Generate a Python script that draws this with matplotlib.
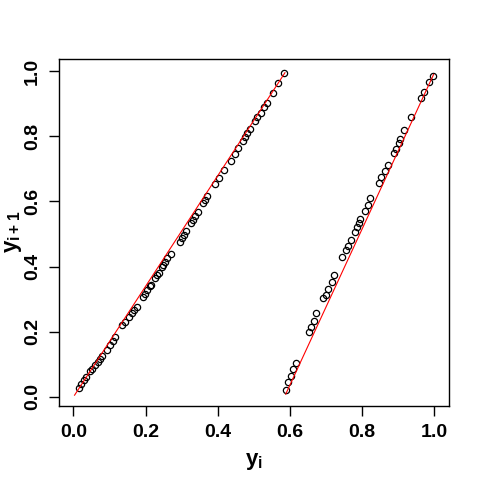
import matplotlib
matplotlib.use("Agg")
import matplotlib.pyplot as plt

plt.rcParams["font.family"] = ["Liberation Sans", "DejaVu Sans"]
plt.rcParams["mathtext.fontset"] = "custom"
plt.rcParams["mathtext.rm"] = "Liberation Sans"
plt.rcParams["mathtext.bf"] = "Liberation Sans:bold"

# lag plot values: y_i and y_{i+1}
y_i = [0.015, 0.021, 0.028, 0.036, 0.047, 0.052, 0.061, 0.067, 0.073, 0.079,
       0.093, 0.102, 0.110, 0.116, 0.135, 0.144, 0.153, 0.162, 0.169, 0.176,
       0.193, 0.199, 0.205, 0.211, 0.215, 0.227, 0.231, 0.236, 0.245, 0.249,
       0.254, 0.260, 0.270, 0.294, 0.300, 0.305, 0.312, 0.325, 0.331, 0.337,
       0.346, 0.360, 0.365, 0.371, 0.392, 0.404, 0.418, 0.436, 0.448, 0.457,
       0.470, 0.475, 0.481, 0.489, 0.503, 0.509, 0.519, 0.528, 0.535, 0.552,
       0.567, 0.583,
       0.588, 0.595, 0.602, 0.609, 0.616, 0.653, 0.659, 0.667, 0.673, 0.691,
       0.699, 0.705, 0.715, 0.721, 0.745, 0.756, 0.760, 0.770, 0.779, 0.785,
       0.791, 0.795, 0.809, 0.816, 0.822, 0.846, 0.853, 0.862, 0.871, 0.887,
       0.894, 0.901, 0.906, 0.917, 0.936, 0.963, 0.970, 0.986, 0.995]
y_next = [0.027, 0.040, 0.052, 0.062, 0.078, 0.085, 0.098, 0.108, 0.116, 0.124,
          0.144, 0.160, 0.170, 0.183, 0.219, 0.231, 0.244, 0.257, 0.265, 0.277,
          0.306, 0.317, 0.328, 0.339, 0.344, 0.364, 0.374, 0.381, 0.398, 0.405,
          0.415, 0.425, 0.439, 0.476, 0.487, 0.497, 0.510, 0.533, 0.543, 0.555,
          0.568, 0.594, 0.604, 0.617, 0.653, 0.671, 0.696, 0.725, 0.745, 0.763,
          0.786, 0.797, 0.809, 0.822, 0.847, 0.860, 0.872, 0.889, 0.901, 0.932,
          0.962, 0.993,
          0.021, 0.044, 0.064, 0.085, 0.103, 0.200, 0.214, 0.234, 0.257, 0.303,
          0.313, 0.330, 0.351, 0.374, 0.429, 0.451, 0.463, 0.482, 0.507, 0.522,
          0.535, 0.545, 0.571, 0.589, 0.610, 0.657, 0.676, 0.694, 0.713, 0.748,
          0.760, 0.778, 0.790, 0.819, 0.858, 0.916, 0.935, 0.967, 0.985]

# red reference segments (two branches)
line1_x = [0.003, 0.586]
line1_y = [0.005, 0.995]
line2_x = [0.588, 0.998]
line2_y = [0.008, 0.990]

ticks = [0.0, 0.2, 0.4, 0.6, 0.8, 1.0]
tick_labels = ["0.0", "0.2", "0.4", "0.6", "0.8", "1.0"]

fig = plt.figure(figsize=(4.8, 4.8), dpi=100)
ax = fig.add_axes([0.123, 0.155, 0.812, 0.722])

ax.plot(y_i, y_next, "o", mfc="none", mec="black", ms=4.5, mew=0.9)
ax.plot(line1_x, line1_y, color="red", lw=0.8)
ax.plot(line2_x, line2_y, color="red", lw=0.8)

ax.set_xlim(-0.04, 1.04)
ax.set_ylim(-0.027, 1.037)
ax.set_xticks(ticks)
ax.set_xticklabels(tick_labels, fontsize=14, fontweight="bold")
ax.set_yticks(ticks)
ax.set_yticklabels(tick_labels, fontsize=14, fontweight="bold",
                   rotation=90, va="center")
ax.tick_params(direction="out", length=7, width=1, pad=6)

for s in ax.spines.values():
    s.set_linewidth(1)

ax.set_xlabel(r"$\mathbf{y_i}$", fontsize=16)
ax.xaxis.set_label_coords(0.5, -0.13)
ax.set_ylabel(r"$\mathbf{y_{i+1}}$", fontsize=16)
ax.yaxis.set_label_coords(-0.09, 0.5)

fig.savefig("out.png", dpi=100)
